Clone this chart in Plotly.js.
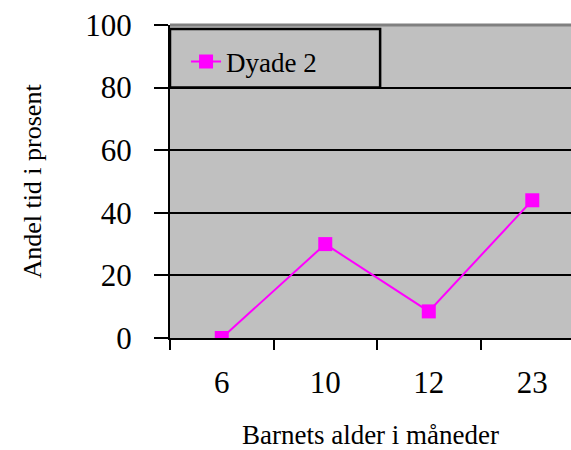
<!DOCTYPE html>
<html>
<head>
<meta charset="utf-8">
<script src="https://cdn.plot.ly/plotly-3.0.1.min.js"></script>
<style>html,body{margin:0;padding:0;background:#fff;}#chart{width:571px;height:450px;}</style>
</head>
<body>
<div id="chart"></div>
<script>
const categories = ["6", "10", "12", "23"];
const seriesName = "Dyade 2";
const values = [0, 30, 8.5, 44];
const yTicks = [0, 20, 40, 60, 80, 100];

const font = "Liberation Serif, Times New Roman, serif";

const trace = {
  x: categories,
  y: values,
  type: "scatter",
  mode: "lines+markers",
  name: seriesName,
  line: {color: "#FF00FF", width: 2},
  marker: {color: "#FF00FF", symbol: "square", size: 14}
};

const layout = {
  width: 571,
  height: 450,
  margin: {l: 170, r: 0, t: 25, b: 112},
  paper_bgcolor: "#ffffff",
  plot_bgcolor: "#C0C0C0",
  font: {family: font, color: "#000"},
  showlegend: true,
  xaxis: {
    type: "category",
    range: [-0.5, 3.374],
    tickson: "boundaries",
    ticks: "outside",
    ticklen: 10,
    tickwidth: 2,
    tickcolor: "#000",
    showgrid: false,
    showline: true,
    linecolor: "#000",
    linewidth: 2,
    zeroline: false,
    tickfont: {size: 31, family: font},
    ticklabelstandoff: 16,
    title: {text: "Barnets alder i måneder", font: {size: 27, family: font}, standoff: 30},
    fixedrange: true
  },
  yaxis: {
    range: [0, 100],
    tickvals: yTicks,
    ticktext: yTicks.map(String),
    ticks: "outside",
    ticklen: 14,
    tickwidth: 2,
    tickcolor: "#000",
    showgrid: true,
    gridcolor: "#000",
    gridwidth: 2,
    showline: true,
    linecolor: "#000",
    linewidth: 2,
    zeroline: false,
    tickfont: {size: 31, family: font},
    ticklabelstandoff: 16,
    title: {text: "Andel tid i prosent", font: {size: 26, family: font}, standoff: 36},
    fixedrange: true
  },
  legend: {
    x: 0.04, y: 0.96, xanchor: "left", yanchor: "top",
    bgcolor: "rgba(0,0,0,0)",
    borderwidth: 0,
    font: {size: 27, family: font},
    itemwidth: 30
  },
  shapes: [
    {type: "line", xref: "paper", yref: "paper", x0: 0, x1: 1, y0: 1, y1: 1,
     line: {color: "#808080", width: 3}, layer: "above"},
    {type: "rect", xref: "paper", yref: "paper", x0: 0, x1: 0.524, y0: 0.80, y1: 0.987,
     line: {color: "#000", width: 2.5}, fillcolor: "rgba(0,0,0,0)", layer: "above"}
  ]
};

Plotly.newPlot("chart", [trace], layout, {displayModeBar: false, staticPlot: true});
</script>
</body>
</html>
